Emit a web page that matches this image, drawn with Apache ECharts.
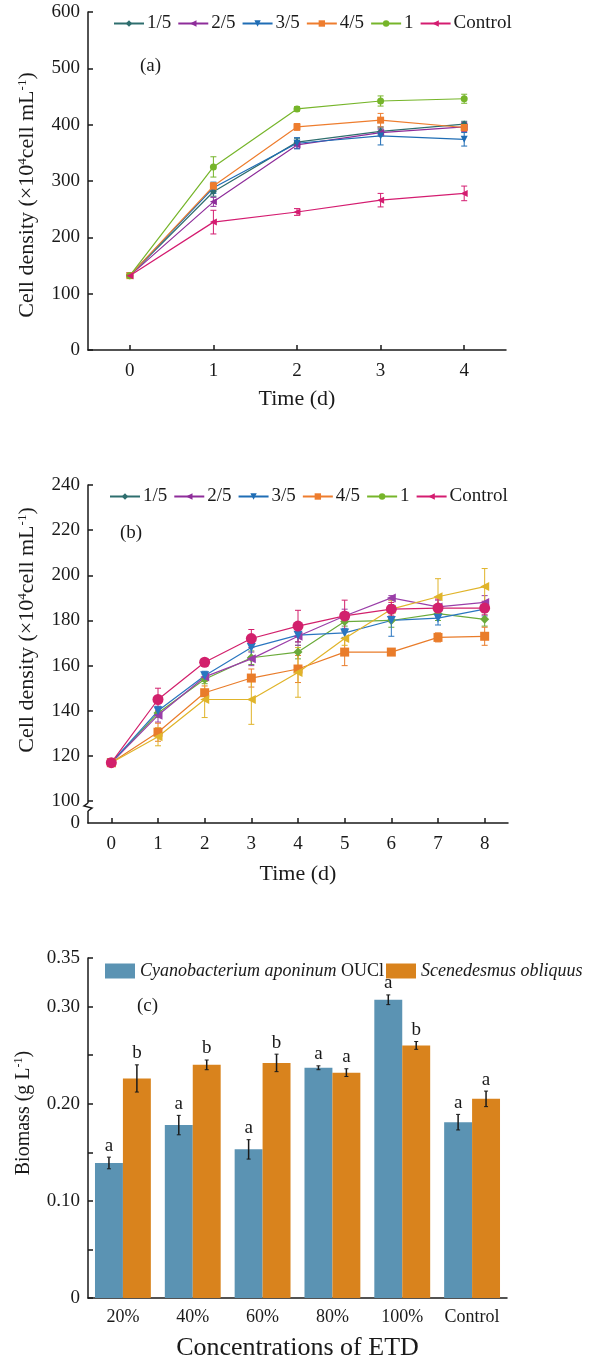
<!DOCTYPE html>
<html><head><meta charset="utf-8">
<script src="https://cdn.jsdelivr.net/npm/echarts@6/dist/echarts.min.js"></script>
<style>html,body{margin:0;padding:0;background:#fff}#c{width:590px;height:1363px}</style>
</head><body><div id="c"></div>
<script>
// ---------- Panel (a) ----------
const daysA = ['0', '1', '2', '3', '4'];
const namesA = ['1/5', '2/5', '3/5', '4/5', '1', 'Control'];
const a_1_5 = [132, 281, 369, 388, 401];
const a_2_5 = [132, 263, 364, 386, 396];
const a_3_5 = [132, 288, 367, 380, 374];
const a_4_5 = [132, 291, 396, 408, 395];
const a_1 = [132, 325, 428, 442, 446];
const a_ctrl = [132, 227, 245, 266, 278];
const a_1_5_err = [2, 8, 6, 6, 5];
const a_2_5_err = [2, 8, 6, 6, 8];
const a_3_5_err = [2, 10, 10, 16, 12];
const a_4_5_err = [2, 6, 6, 12, 6];
const a_1_err = [2, 18, 4, 9, 8];
const a_ctrl_err = [2, 21, 6, 12, 13];

// ---------- Panel (b) ----------
const daysB = ['0', '1', '2', '3', '4', '5', '6', '7', '8'];
const b_1_5 = [117, 139, 154, 163.5, 166, 179.5, 180, 183, 180.5];
const b_2_5 = [117, 138, 155, 163, 173, 182, 190, 186, 188];
const b_3_5 = [117, 140, 155.5, 168, 173.5, 174.5, 180, 181, 185];
const b_4_5 = [117, 130.5, 148, 154.5, 158.5, 166, 166, 172.5, 173];
const b_1 = [117, 128.5, 145, 145, 157, 172, 185, 190.5, 195];
const b_ctrl = [117, 145, 161.5, 172, 177.5, 182, 185, 185.5, 185.5];
const b_1_5_err = [1, 2, 2, 3, 3, 2, 3, 3, 3];
const b_2_5_err = [1, 3, 2, 3, 4, 3, 1, 3, 3];
const b_3_5_err = [1, 2, 2, 4, 3, 2, 7, 3, 3];
const b_4_5_err = [1, 4, 3, 4, 6, 6, 1, 2, 4];
const b_1_err = [1, 4, 8, 11, 11, 3, 4, 8, 8];
const b_ctrl_err = [1, 5, 1, 4, 7, 7, 3, 4, 3];
const yTicksB = [90.3, 100, 120, 140, 160, 180, 200, 220, 240];

// ---------- Panel (c) ----------
const catsC = ['20%', '40%', '60%', '80%', '100%', 'Control'];
const cyano = [0.139, 0.178, 0.153, 0.237, 0.307, 0.181];
const cyanoErr = [0.006, 0.010, 0.010, 0.002, 0.005, 0.008];
const sced = [0.226, 0.240, 0.242, 0.232, 0.260, 0.205];
const scedErr = [0.014, 0.005, 0.009, 0.004, 0.004, 0.008];
const cyanoLetters = ['a', 'a', 'a', 'a', 'a', 'a'];
const scedLetters = ['b', 'b', 'b', 'a', 'b', 'a'];
const yLabelsC = [0, 0.1, 0.2, 0.3, 0.35];
const yTicksC = [0, 0.05, 0.1, 0.15, 0.2, 0.25, 0.3, 0.35];

const FONT = 'Liberation Serif';
const TXT = '#1a1a1a';

const colA = ['#2e6e6e', '#8e2d9a', '#1f6db5', '#ee7d2e', '#76b52a', '#d41c70'];
const symA = ['diamond', 'triangle', 'triangle', 'rect', 'circle', 'triangle'];
const rotA = [0, 90, 180, 0, 0, 90];
const valsA = [a_1_5, a_2_5, a_3_5, a_4_5, a_1, a_ctrl];
const errsA = [a_1_5_err, a_2_5_err, a_3_5_err, a_4_5_err, a_1_err, a_ctrl_err];

const colBplot = ['#6aaa3a', '#9a3ea8', '#2a76c0', '#e97c2a', '#e0b42a', '#d2206c'];
const symBplot = ['diamond', 'triangle', 'triangle', 'rect', 'triangle', 'circle'];
const rotBplot = [0, 90, 180, 0, 90, 0];
const valsB = [b_1_5, b_2_5, b_3_5, b_4_5, b_1, b_ctrl];
const errsB = [b_1_5_err, b_2_5_err, b_3_5_err, b_4_5_err, b_1_err, b_ctrl_err];

function errRender(color, cap) {
  return function (params, api) {
    const x = api.value(0), v = api.value(1), e = api.value(2);
    const hi = api.coord([x, v + e]);
    const lo = api.coord([x, v - e]);
    const st = { stroke: color, lineWidth: 1 };
    return { type: 'group', children: [
      { type: 'line', shape: { x1: hi[0], y1: hi[1], x2: lo[0], y2: lo[1] }, style: st },
      { type: 'line', shape: { x1: hi[0] - cap, y1: hi[1], x2: hi[0] + cap, y2: hi[1] }, style: st },
      { type: 'line', shape: { x1: lo[0] - cap, y1: lo[1], x2: lo[0] + cap, y2: lo[1] }, style: st }
    ] };
  };
}

function barErrRender(side, letters) {
  return function (params, api) {
    const i = api.value(0), v = api.value(1), e = api.value(2);
    const band = api.size([1, 0])[0];
    const bw = band * 0.8 / 2;
    const c = api.coord([i, v]);
    const x = c[0] + side * bw / 2;
    const hi = api.coord([i, v + e])[1];
    const lo = api.coord([i, v - e])[1];
    const st = { stroke: '#1a1a1a', lineWidth: 1.5 };
    return { type: 'group', children: [
      { type: 'line', shape: { x1: x, y1: hi, x2: x, y2: lo }, style: st },
      { type: 'line', shape: { x1: x - 2, y1: hi, x2: x + 2, y2: hi }, style: { stroke: '#1a1a1a', lineWidth: 1 } },
      { type: 'line', shape: { x1: x - 2, y1: lo, x2: x + 2, y2: lo }, style: { stroke: '#1a1a1a', lineWidth: 1 } },
      { type: 'text', x: x, y: hi - 2, style: { text: letters[params.dataIndex], fill: TXT, font: '19px "Liberation Serif"', textAlign: 'center', textVerticalAlign: 'bottom' } }
    ] };
  };
}

const series = [];
// panel a
valsA.forEach((vals, k) => {
  series.push({
    name: namesA[k], type: 'line', xAxisIndex: 0, yAxisIndex: 0, data: vals,
    symbol: symA[k], symbolRotate: rotA[k], symbolSize: 7,
    itemStyle: { color: colA[k] }, lineStyle: { color: colA[k], width: 1.2 }
  });
  series.push({
    type: 'custom', xAxisIndex: 0, yAxisIndex: 0, renderItem: errRender(colA[k], 3),
    data: vals.map((v, j) => [j, v, errsA[k][j]]), encode: { x: 0, y: 1 }, z: 3
  });
});
// panel b legend-only series
namesA.forEach((n, k) => {
  series.push({
    name: 'b:' + n, type: 'line', xAxisIndex: 1, yAxisIndex: 1, data: [],
    symbol: symA[k], symbolRotate: rotA[k], symbolSize: 7,
    itemStyle: { color: colA[k] }, lineStyle: { color: colA[k], width: 1.2 }
  });
});
// panel b plotted series
valsB.forEach((vals, k) => {
  series.push({
    name: 'plot-b-' + namesA[k], type: 'line', xAxisIndex: 1, yAxisIndex: 1, data: vals,
    symbol: symBplot[k], symbolRotate: rotBplot[k], symbolSize: k === 5 ? 11 : 9,
    itemStyle: { color: colBplot[k] }, lineStyle: { color: colBplot[k], width: 1.2 }
  });
  series.push({
    type: 'custom', xAxisIndex: 1, yAxisIndex: 1, renderItem: errRender(colBplot[k], 3),
    data: vals.map((v, j) => [j, v, errsB[k][j]]), encode: { x: 0, y: 1 }, z: 3
  });
});
// panel c
series.push({ name: 'Cyanobacterium aponinum OUCl', type: 'bar', xAxisIndex: 2, yAxisIndex: 2, data: cyano,
  barGap: '0%', barCategoryGap: '20%', itemStyle: { color: '#5b93b3' } });
series.push({ name: 'Scenedesmus obliquus', type: 'bar', xAxisIndex: 2, yAxisIndex: 2, data: sced,
  barGap: '0%', barCategoryGap: '20%', itemStyle: { color: '#d9831d' } });
series.push({ type: 'custom', xAxisIndex: 2, yAxisIndex: 2, renderItem: barErrRender(-1, cyanoLetters),
  data: cyano.map((v, j) => [j, v, cyanoErr[j]]), encode: { x: 0, y: 1 }, z: 5 });
series.push({ type: 'custom', xAxisIndex: 2, yAxisIndex: 2, renderItem: barErrRender(1, scedLetters),
  data: sced.map((v, j) => [j, v, scedErr[j]]), encode: { x: 0, y: 1 }, z: 5 });

const axLine = { show: true, lineStyle: { color: '#1a1a1a', width: 1.5 } };
const tickIn = { show: true, inside: true, length: 5, lineStyle: { color: '#1a1a1a', width: 1.5 } };
const lbl = { color: TXT, fontFamily: FONT, fontSize: 19 };
const mkName = (size) => ({ color: TXT, fontFamily: FONT, fontSize: size,
  rich: { sup: { fontFamily: FONT, fontSize: Math.round(size * 0.6), color: TXT, padding: [0, 0, Math.round(size * 0.45), 0] } } });
const nameStyle = mkName(22);
const yName = 'Cell density (×10{sup|4}cell mL{sup|-1})';

const option = {
  backgroundColor: '#fff',
  animation: false,
  grid: [
    { left: 88, right: 84, top: 12, height: 338 },
    { left: 88, right: 82, top: 485, height: 338 },
    { left: 88, right: 83, top: 958, height: 340 }
  ],
  xAxis: [
    { gridIndex: 0, type: 'category', data: daysA, boundaryGap: true, axisLine: axLine,
      axisTick: Object.assign({}, tickIn, { alignWithLabel: true }), axisLabel: Object.assign({ margin: 12 }, lbl),
      name: 'Time (d)', nameLocation: 'middle', nameGap: 38, nameTextStyle: nameStyle },
    { gridIndex: 1, type: 'category', data: daysB, boundaryGap: true, axisLine: axLine,
      axisTick: Object.assign({}, tickIn, { alignWithLabel: true }), axisLabel: Object.assign({ margin: 12 }, lbl),
      name: 'Time (d)', nameLocation: 'middle', nameGap: 40, nameTextStyle: nameStyle },
    { gridIndex: 2, type: 'category', data: catsC, boundaryGap: true, axisLine: axLine,
      axisTick: { show: false }, axisLabel: Object.assign({ margin: 10, interval: 0 }, lbl, { fontSize: 18 }),
      name: 'Concentrations of ETD', nameLocation: 'middle', nameGap: 37, nameTextStyle: mkName(26) }
  ],
  yAxis: [
    { gridIndex: 0, type: 'value', min: 0, max: 600, interval: 100, axisLine: axLine, axisTick: tickIn,
      splitLine: { show: false }, axisLabel: Object.assign({ margin: 8 }, lbl),
      name: yName, nameLocation: 'middle', nameRotate: 90, nameGap: 49,
      nameTextStyle: Object.assign({}, nameStyle, { padding: [0, 28, 0, 0] }) },
    { gridIndex: 1, type: 'value', min: yTicksB[0], max: 240, axisLine: axLine,
      axisTick: Object.assign({}, tickIn, { customValues: yTicksB.slice(1) }),
      splitLine: { show: false },
      axisLabel: Object.assign({ margin: 8, customValues: yTicksB,
        formatter: v => (v < 95 ? '0' : String(Math.round(v))) }, lbl),
      name: yName, nameLocation: 'middle', nameRotate: 90, nameGap: 49,
      nameTextStyle: Object.assign({}, nameStyle, { padding: [0, 0, 0, 48] }) },
    { gridIndex: 2, type: 'value', min: 0, max: 0.35, axisLine: axLine,
      axisTick: Object.assign({}, tickIn, { customValues: yTicksC }),
      splitLine: { show: false },
      axisLabel: Object.assign({ margin: 8, customValues: yLabelsC,
        formatter: v => (v === 0 ? '0' : v.toFixed(2)) }, lbl),
      name: 'Biomass (g L{sup|-1})', nameLocation: 'middle', nameRotate: 90, nameGap: 54,
      nameTextStyle: Object.assign({}, mkName(20), { padding: [0, 0, 0, 30] }) }
  ],
  legend: [
    { left: 108, top: 9, itemWidth: 30, itemHeight: 8, itemGap: 6, data: namesA,
      textStyle: { color: TXT, fontFamily: FONT, fontSize: 19, padding: [0, 0, 0, -2] } },
    { left: 104, top: 482, itemWidth: 30, itemHeight: 8, itemGap: 6, data: namesA.map(n => 'b:' + n),
      formatter: n => n.slice(2),
      textStyle: { color: TXT, fontFamily: FONT, fontSize: 19, padding: [0, 0, 0, -2] } },
    { left: 100, top: 957, width: 490, itemWidth: 30, itemHeight: 15, itemGap: 2, icon: 'rect',
      data: ['Cyanobacterium aponinum OUCl', 'Scenedesmus obliquus'],
      formatter: n => n === 'Cyanobacterium aponinum OUCl' ? '{i|Cyanobacterium aponinum} OUCl' : '{i|' + n + '}',
      textStyle: { color: TXT, fontFamily: FONT, fontSize: 18,
        rich: { i: { fontFamily: FONT, fontSize: 18, fontStyle: 'italic', color: TXT } } } }
  ],
  graphic: [
    { type: 'text', left: 140, top: 57, style: { text: '(a)', fill: TXT, font: '19px "Liberation Serif"' } },
    { type: 'text', left: 120, top: 524, style: { text: '(b)', fill: TXT, font: '19px "Liberation Serif"' } },
    { type: 'text', left: 137, top: 997, style: { text: '(c)', fill: TXT, font: '19px "Liberation Serif"' } },
    { type: 'rect', shape: { x: 84, y: 803, width: 8, height: 8 }, style: { fill: '#fff' }, z: 100 },
    { type: 'polyline', shape: { points: [[88, 803], [84, 806], [92, 808], [88, 811]] },
      style: { stroke: '#1a1a1a', lineWidth: 1.5, fill: null }, z: 101 }
  ],
  series: series
};
const chart = echarts.init(document.getElementById('c'), null, { renderer: 'canvas' });
chart.setOption(option);
</script></body></html>
